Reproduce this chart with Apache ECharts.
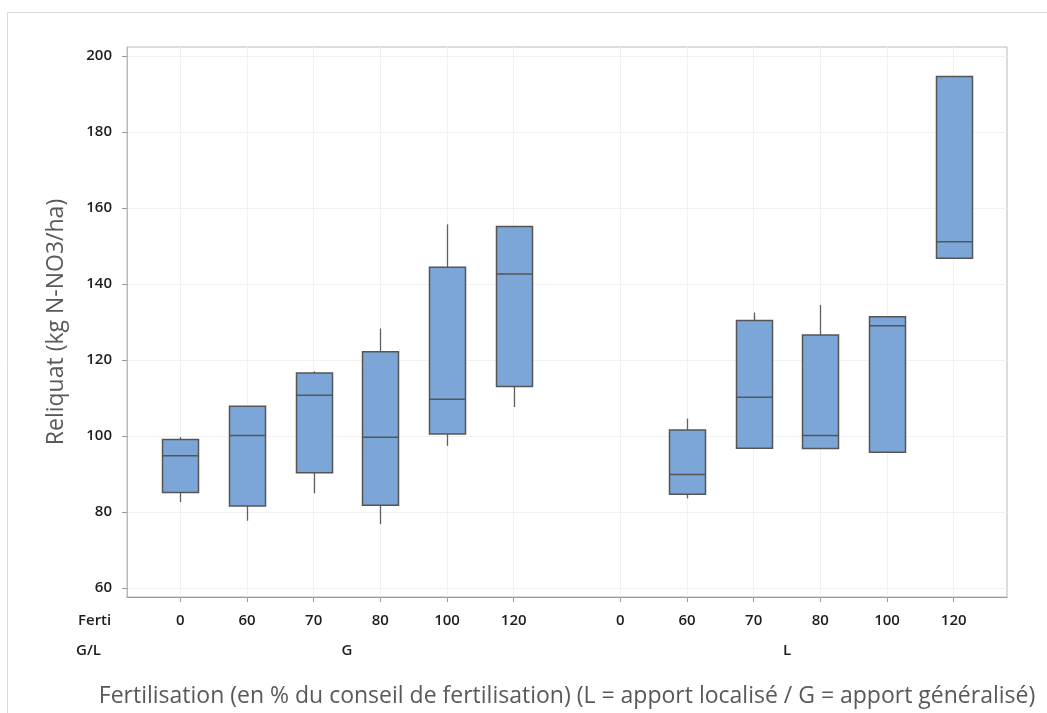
<!DOCTYPE html>
<html>
<head>
<meta charset="utf-8">
<script src="https://cdn.jsdelivr.net/npm/echarts@6/dist/echarts.min.js"></script>
<style>html,body{margin:0;padding:0;background:#fff;}#c{width:1047px;height:713px;}</style>
</head>
<body>
<div id="c"></div>
<script>
// ---- data ----
const fertiLabels = ['0', '60', '70', '80', '100', '120'];
const groupLabels = ['G', 'L'];
// each entry: [min, Q1, median, Q3, max]; null = no data
const statsG = [
  [82.6, 85.1, 94.8, 99.1, 99.7],
  [77.7, 81.6, 100.1, 107.8, 107.8],
  [84.9, 90.3, 110.7, 116.6, 117.0],
  [76.8, 81.8, 99.7, 122.2, 128.3],
  [97.4, 100.5, 109.7, 144.4, 155.7],
  [107.6, 113.0, 142.6, 155.1, 155.1]
];
const statsL = [
  null,
  [83.6, 84.7, 89.9, 101.6, 104.6],
  [96.8, 96.8, 110.2, 130.4, 132.5],
  [96.7, 96.7, 100.1, 126.6, 134.5],
  [95.7, 95.7, 129.0, 131.4, 131.4],
  [146.8, 146.8, 151.1, 194.6, 194.6]
];
const yTicks = [60, 80, 100, 120, 140, 160, 180, 200];

// ---- layout helpers ----
const groupStep = 6.6;      // distance between first slots of the two groups
const statsByGroup = [statsG, statsL];
const tickPos = [];
const tickText = {};
const boxData = [];
statsByGroup.forEach(function (stats, g) {
  stats.forEach(function (s, i) {
    const p = +(g * groupStep + i).toFixed(2);
    tickPos.push(p);
    tickText[p.toFixed(2)] = fertiLabels[i];
    if (s) boxData.push([p].concat(s));
  });
});
const groupPos = groupLabels.map(function (_, g) { return +(g * groupStep + (fertiLabels.length - 1) / 2).toFixed(2); });
const groupText = {};
groupPos.forEach(function (p, g) { groupText[p.toFixed(2)] = groupLabels[g]; });

const FONT = '"Open Sans", "Noto Sans", sans-serif';
const chart = echarts.init(document.getElementById('c'), null, { renderer: 'canvas' });

const option = {
  backgroundColor: '#ffffff',
  animation: false,
  grid: {
    left: 127, right: 40, top: 47, bottom: 116,
    show: true, borderColor: '#b9b9b9', borderWidth: 1, backgroundColor: 'transparent'
  },
  xAxis: [
    {
      type: 'value', min: -0.8, max: 12.4,
      axisLine: { show: true, onZero: false, lineStyle: { color: '#9a9a9a', width: 1 } },
      axisTick: { show: true, length: 5, customValues: tickPos, lineStyle: { color: '#9a9a9a' } },
      axisLabel: {
        customValues: tickPos, margin: 16,
        color: '#1e1e1e', fontSize: 15, fontWeight: 600, fontFamily: FONT,
        formatter: function (v) { return tickText[(+v).toFixed(2)] || ''; }
      },
      splitLine: { show: true, lineStyle: { color: '#f1f1f1', width: 1 } },
      name: 'Fertilisation (en % du conseil de fertilisation) (L = apport localisé / G = apport généralisé)',
      nameLocation: 'middle', nameGap: 88,
      nameTextStyle: { color: '#595959', fontSize: 23, fontFamily: FONT }
    },
    {
      type: 'value', min: -0.8, max: 12.4, position: 'bottom', offset: 30,
      axisLine: { show: false, onZero: false }, axisTick: { show: false }, splitLine: { show: false },
      axisLabel: {
        customValues: groupPos, margin: 16,
        color: '#1e1e1e', fontSize: 15, fontWeight: 600, fontFamily: FONT,
        formatter: function (v) { return groupText[(+v).toFixed(2)] || ''; }
      }
    }
  ],
  yAxis: {
    type: 'value', min: 57.63, max: 202.37,
    axisLine: { show: true, onZero: false, lineStyle: { color: '#b9b9b9' } },
    axisTick: { show: true, length: 5, customValues: yTicks, lineStyle: { color: '#9a9a9a' } },
    axisLabel: { customValues: yTicks, margin: 15, color: '#1e1e1e', fontSize: 15, fontWeight: 600, fontFamily: FONT },
    splitLine: { show: true, lineStyle: { color: '#f1f1f1', width: 1 } },
    name: 'Reliquat (kg N-NO3/ha)', nameLocation: 'middle', nameGap: 59,
    nameTextStyle: { color: '#595959', fontSize: 23, fontFamily: FONT }
  },
  graphic: [
    { type: 'polyline', silent: true, shape: { points: [[7.5, 713], [7.5, 12.5], [1047, 12.5]] },
      style: { stroke: '#d9d9d9', lineWidth: 1, fill: null } },
    { type: 'text', left: 78, top: 613, style: { text: 'Ferti', fill: '#1e1e1e', font: '600 15px ' + FONT } },
    { type: 'text', left: 76, top: 643, style: { text: 'G/L', fill: '#1e1e1e', font: '600 15px ' + FONT } }
  ],
  series: [{
    type: 'custom',
    xAxisIndex: 0,
    encode: { x: 0, y: [1, 2, 3, 4, 5] },
    data: boxData,
    renderItem: function (params, api) {
      const x = api.value(0);
      const pMin = api.coord([x, api.value(1)]);
      const pQ1 = api.coord([x, api.value(2)]);
      const pMed = api.coord([x, api.value(3)]);
      const pQ3 = api.coord([x, api.value(4)]);
      const pMax = api.coord([x, api.value(5)]);
      const w = api.size([0.54, 0])[0];
      const cx = Math.round(pMed[0]) + 0.5;
      return {
        type: 'group',
        children: [
          { type: 'line', shape: { x1: cx, y1: pMax[1], x2: cx, y2: pQ3[1] }, style: { stroke: '#606060', lineWidth: 1.3 } },
          { type: 'line', shape: { x1: cx, y1: pQ1[1], x2: cx, y2: pMin[1] }, style: { stroke: '#606060', lineWidth: 1.3 } },
          { type: 'rect', shape: { x: cx - w / 2, y: pQ3[1], width: w, height: pQ1[1] - pQ3[1] },
            style: { fill: '#7ca6d8', stroke: '#555555', lineWidth: 1.5 } },
          { type: 'line', shape: { x1: cx - w / 2, y1: pMed[1], x2: cx + w / 2, y2: pMed[1] }, style: { stroke: '#555555', lineWidth: 1.5 } }
        ]
      };
    }
  }]
};
chart.setOption(option);
</script>
</body>
</html>
